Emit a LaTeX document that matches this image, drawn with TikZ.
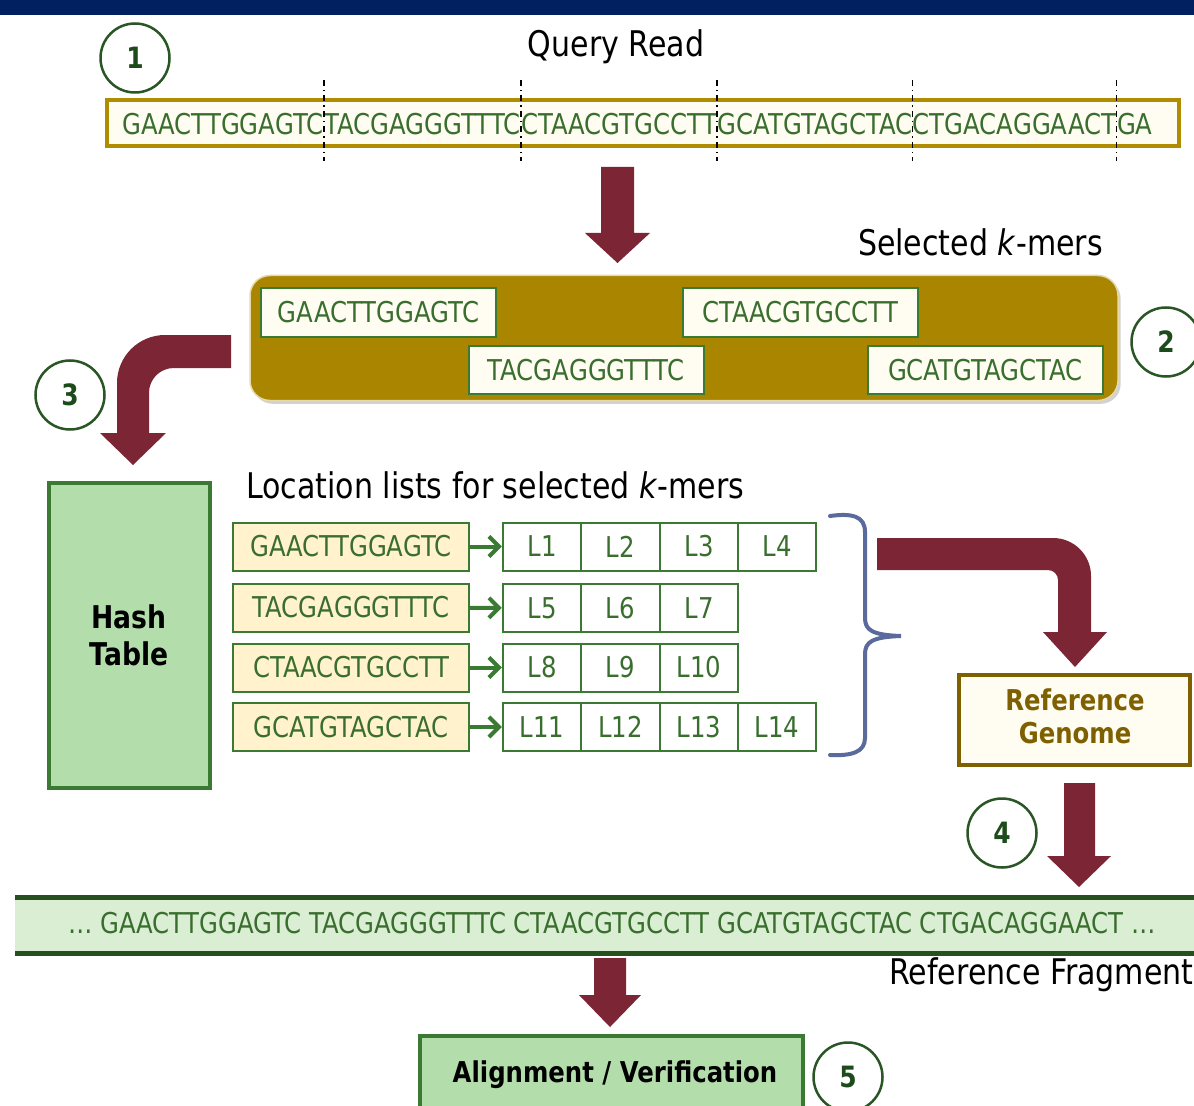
\documentclass[tikz,border=0pt]{standalone}
\usepackage{fontspec}
\setmainfont{DejaVu Sans}[FakeStretch=0.85]
\usetikzlibrary{arrows.meta,shadows}
\newlength\pxu \setlength\pxu{0.75pt}
\definecolor{navy}{HTML}{002060}
\definecolor{maroon}{HTML}{7B2535}
\definecolor{gold}{HTML}{A98500}
\definecolor{goldline}{HTML}{B08C00}
\definecolor{cream}{HTML}{FFFDF2}
\definecolor{dna}{HTML}{3A6E2F}
\definecolor{boxgreen}{HTML}{3B7A33}
\definecolor{hashfill}{HTML}{B3DEAB}
\definecolor{kmerfill}{HTML}{FFF2CC}
\definecolor{circlegreen}{HTML}{2A5625}
\definecolor{numgreen}{HTML}{1E4B1B}
\definecolor{bracecol}{HTML}{5A6A9C}
\definecolor{refgold}{HTML}{7F6000}
\definecolor{fragfill}{HTML}{D9EED3}
\definecolor{fragline}{HTML}{27501F}
\newcommand\dnafont{\fontsize{21.5}{24}\selectfont}
\newcommand\titlefont{\fontsize{26.5}{30}\selectfont}
\tikzset{
  dnatext/.style={text=dna, font=\dnafont, inner sep=0pt},
  titletext/.style={text=black, font=\titlefont, inner sep=0pt},
  kbox/.style={draw=boxgreen, line width=2\pxu, fill=cream, minimum width=235\pxu,
    minimum height=48\pxu, inner sep=0pt, text=dna, font=\dnafont},
  locbox/.style={kbox, fill=kmerfill, minimum width=236\pxu, minimum height=48\pxu},
  lcell/.style={draw=boxgreen, line width=2\pxu, fill=white, minimum width=78.5\pxu,
    minimum height=48\pxu, inner sep=0pt, text=dna, font=\dnafont},
  stepnum/.style={circle, draw=circlegreen, line width=2.5\pxu, fill=white,
    minimum size=69\pxu, inner sep=0pt, text=numgreen,
    font=\bfseries\fontsize{22}{22}\selectfont},
  bigarrow/.style={fill=maroon},
  garrow/.style={draw=boxgreen, line width=3pt, -{Straight Barb[length=7.5pt,width=15pt]}},
  cutline/.style={draw=black, line width=1.1pt, dash pattern=on 4.5pt off 3pt on 1.1pt off 3pt},
}
\begin{document}
\begin{tikzpicture}[x=0.75pt,y=-0.75pt]
\path[use as bounding box, clip] (0,0) rectangle (1194,1105);
\fill[white] (0,0) rectangle (1194,1105);
\fill[navy] (0,0) rectangle (1194,15);

% Step 1: query read
\node[stepnum] (c1) at (135,58) {1};
\node[titletext] (qrt) at (616,47) {Query Read};
\node[draw=goldline, line width=4\pxu, fill=cream, minimum width=1072\pxu,
  minimum height=46\pxu, inner sep=0pt] (qbox) at (643,123) {};
\node[dnatext, anchor=west] (q1) at (122,124) {GAACTTGGAGTC};
\node[dnatext, anchor=west] (q2) at (q1.east) {TACGAGGGTTTC};
\node[dnatext, anchor=west] (q3) at (q2.east) {CTAACGTGCCTT};
\node[dnatext, anchor=west] (q4) at (q3.east) {GCATGTAGCTAC};
\node[dnatext, anchor=west] (q5) at (q4.east) {CTGACAGGAACT};
\node[dnatext, anchor=west] (q6) at (q5.east) {GA};
\foreach \s in {q1,q2,q3,q4,q5}{
  \coordinate (\s top) at ([yshift=33pt]\s.east);
  \coordinate (\s bot) at ([yshift=-28pt]\s.east);
  \path[cutline] (\s top) -- (\s bot);
}

% arrow 1
\fill[bigarrow] (601,167) -- (634,167) -- (634,233) -- (650,233) -- (617.5,263) -- (585,233) -- (601,233) -- cycle;

% Step 2: selected k-mers
\node[titletext, anchor=east] (skt) at (1103,242) {Selected \textit{k}-mers};
\node[draw=cream!70!gold, line width=1.5\pxu, fill=gold, rounded corners=15pt,
  minimum width=868\pxu, minimum height=125\pxu, inner sep=0pt,
  drop shadow={opacity=0.35, shadow xshift=2pt, shadow yshift=-2.5pt}] (selbox) at (684,338) {};
\node[kbox] (s1) at (378.5,312.5) {GAACTTGGAGTC};
\node[kbox] (s3) at (800,312.5) {CTAACGTGCCTT};
\node[kbox] (s2) at (586,370) {TACGAGGGTTTC};
\node[kbox] (s4) at (985.5,370) {GCATGTAGCTAC};
\node[stepnum] (c2) at (1166,342) {2};

% arrow 3
\fill[bigarrow] (231,335) -- (165,335) .. controls (138.5,335) and (117,356.5) .. (117,383)
  -- (117,433) -- (100,433) -- (133,465) -- (166,433) -- (149,433) -- (149,393)
  .. controls (149,379) and (160,368) .. (174,368) -- (231,368) -- cycle;
\node[stepnum] (c3) at (70,395) {3};

% Hash table
\node[draw=boxgreen, line width=4\pxu, fill=hashfill, minimum width=161\pxu,
  minimum height=305\pxu, inner sep=0pt, align=center, text=black,
  font=\bfseries\fontsize{23.5}{28}\selectfont] (hash) at (129,635) {Hash\\Table};

% Location lists
\node[titletext, anchor=west] (llt) at (246,485) {Location lists for selected \textit{k}-mers};
\node[locbox] (k1) at (351,546.5) {GAACTTGGAGTC};
\node[locbox] (k2) at (351,607.5) {TACGAGGGTTTC};
\node[locbox] (k3) at (351,667.5) {CTAACGTGCCTT};
\node[locbox] (k4) at (351,727) {GCATGTAGCTAC};

\node[lcell] (L1) at (542,546.5) {L1};
\node[lcell] (L2) at (620.5,546.5) {L2};
\node[lcell] (L3) at (699,546.5) {L3};
\node[lcell] (L4) at (777,546.5) {L4};
\node[lcell] (L5) at (542,608) {L5};
\node[lcell] (L6) at (620.5,608) {L6};
\node[lcell] (L7) at (699,608) {L7};
\node[lcell] (L8) at (542,667.5) {L8};
\node[lcell] (L9) at (620.5,667.5) {L9};
\node[lcell] (L10) at (699,667.5) {L10};
\node[lcell] (L11) at (542,727) {L11};
\node[lcell] (L12) at (620.5,727) {L12};
\node[lcell] (L13) at (699,727) {L13};
\node[lcell] (L14) at (777,727) {L14};

\draw[garrow] (k1) -- (L1);
\draw[garrow] (k2) -- (L5);
\draw[garrow] (k3) -- (L8);
\draw[garrow] (k4) -- (L11);

% brace
\coordinate (bracetip) at (901,636);
\draw[bracecol, line width=3pt, line cap=round]
  (830,516) .. controls (852,513) and (865,516) .. (865,532) -- (865,618)
  .. controls (865,630) and (872,635) .. (bracetip)
  .. controls (872,637) and (865,642) .. (865,654) -- (865,738)
  .. controls (865,752) and (852,756) .. (830,755);

% arrow to reference genome
\fill[bigarrow] (877,538) -- (1053,538) .. controls (1074,538) and (1091,555) .. (1091,576)
  -- (1091,632) -- (1107,632) -- (1075,667) -- (1043,632) -- (1058,632) -- (1058,580)
  .. controls (1058,574.5) and (1053.5,570) .. (1048,570) -- (877,570) -- cycle;

\node[draw=refgold, line width=4\pxu, fill=cream, minimum width=231\pxu,
  minimum height=90\pxu, inner sep=0pt] (refg) at (1074.5,720) {};
\node[align=center, text=refgold, inner sep=0pt,
  font=\bfseries\fontsize{21.5}{25}\selectfont] (refgt) at (1075,716) {Reference\\Genome};

% Step 4
\fill[bigarrow] (1064,783) -- (1095,783) -- (1095,856) -- (1111,856) -- (1079,887) -- (1047,856) -- (1064,856) -- cycle;
\node[stepnum] (c4) at (1002,833) {4};

% Reference fragment
\node[fill=fragfill, minimum width=1185\pxu, minimum height=55\pxu, inner sep=0pt,
  anchor=west] (frag) at (15,925.5) {};
\draw[fragline, line width=5\pxu] (frag.north west) -- (frag.north east);
\draw[fragline, line width=5\pxu] (frag.south west) -- (frag.south east);
\node[dnatext] (fragtext) at (612,923) {… GAACTTGGAGTC TACGAGGGTTTC CTAACGTGCCTT GCATGTAGCTAC CTGACAGGAACT …};
\node[titletext, anchor=west] (rft) at (889,975) {Reference Fragment};

% arrow 5
\fill[bigarrow] (594,958) -- (626,958) -- (626,995) -- (641,995) -- (610,1027) -- (579,995) -- (594,995) -- cycle;

\node[draw=boxgreen, line width=4\pxu, fill=hashfill, minimum width=383\pxu,
  minimum height=100\pxu, inner sep=0pt] (align) at (611.5,1086) {};
\node[text=black, inner sep=0pt, font=\bfseries\fontsize{21.5}{25}\selectfont] (alignt) at (615,1075) {Alignment / Verification};
\node[stepnum] (c5) at (848,1077) {5};
\end{tikzpicture}
\end{document}
